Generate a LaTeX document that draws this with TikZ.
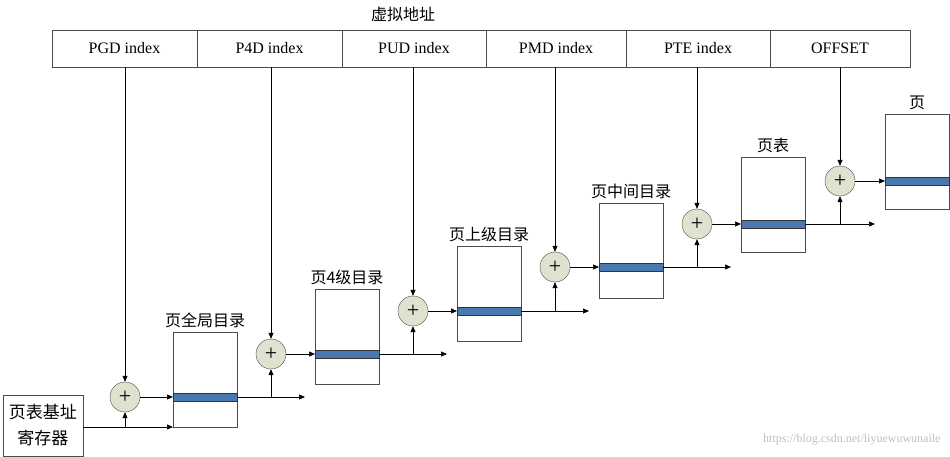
\documentclass[tikz,border=0pt]{standalone}
\usepackage{fontspec}
\setmainfont{Liberation Serif}
\newfontfamily\cjk{Noto Sans CJK SC}
\usetikzlibrary{arrows.meta}
\definecolor{bandblue}{RGB}{74,120,176}
\definecolor{addfill}{RGB}{222,226,206}
\begin{document}
\begin{tikzpicture}[x=1pt,y=-1pt,
    box/.style={draw=black!70,line width=0.8pt},
    band/.style={fill=bandblue,draw=black!80,line width=0.6pt},
    adder/.style={circle,draw=black!70,fill=addfill,minimum size=30pt,inner sep=0pt,font=\fontsize{22}{22}\selectfont},
    conn/.style={-{Triangle[length=6pt,width=5pt]},line width=0.6pt},
    lab/.style={font=\cjk\fontsize{16}{16}\selectfont}]
    \useasboundingbox (0,0) rectangle (950,457);
    % virtual address
    \node[lab] (title) at (403,14) {虚拟地址};
    \foreach \xa/\xb/\txt/\nm in {52/197/PGD index/f1,197/342/P4D index/f2,342/486/PUD index/f3,486/626/PMD index/f4,626/770/PTE index/f5,770/910/OFFSET/f6}
        \node[box,minimum width=\xb pt-\xa pt,minimum height=37pt,inner sep=0pt,font=\fontsize{16}{16}\selectfont] (\nm) at ({(\xa+\xb)/2},48.5) {\txt};
    % register
    \node[box,minimum width=80pt,minimum height=61pt,inner sep=0pt,align=center,font=\cjk\fontsize{17}{26}\selectfont] (reg) at (43,425.5) {页表基址\\寄存器};
    % tables: x left, y top, band y, adder x, label, field
    \foreach \i/\xl/\yt/\yb/\ax/\txt/\f in {1/173/332/397/125/页全局目录/f1,2/315/289/354/271/页4级目录/f2,3/457/246/311/413/页上级目录/f3,4/599/203/267/555/页中间目录/f4,5/741/157/224/697/页表/f5,6/885/114/181/840/页/f6}{
        \draw[box] (\xl,\yt) rectangle +(64,95);
        \draw[band] (\xl,\yb-4) rectangle +(64,8);
        \coordinate (in\i) at (\xl,\yb);
        \coordinate (out\i) at (\xl+64,\yb);
        \node[lab,anchor=south] (t\i) at (\xl+32,\yt-1) {\txt};
        \node[adder] (a\i) at (\ax,\yb) {+};
        \draw[conn] (\f.south -| a\i) -- (a\i.north);
        \draw[conn] (a\i.east) -- (in\i);
    }
    % base links
    \coordinate (e0) at (173,427);
    \draw[conn] (reg.east |- e0) -- (e0);
    \draw[conn] (a1.south |- e0) -- (a1.south);
    \foreach \i/\j/\xe in {1/2/305,2/3/447,3/4/589,4/5/731,5/6/875}{
        \coordinate (e\i) at (\xe,0 |- out\i);
        \draw[conn] (out\i) -- (e\i);
        \draw[conn] (out\i -| a\j) -- (a\j.south);
    }
    \node[text=black!25,font=\fontsize{12}{12}\selectfont,anchor=east] (wm) at (944,440) {https://blog.csdn.net/liyuewuwunaile};
\end{tikzpicture}
\end{document}
